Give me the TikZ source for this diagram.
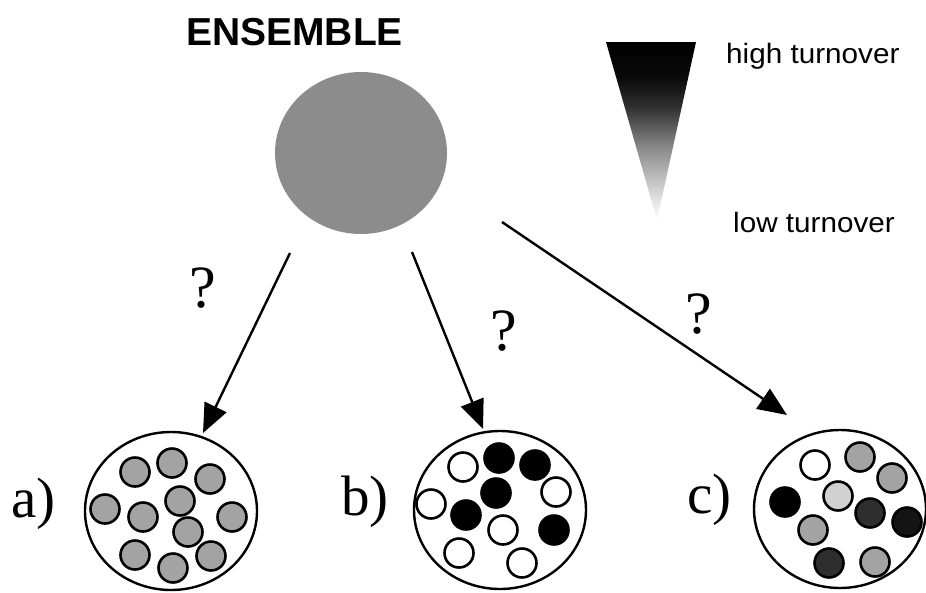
\documentclass[tikz,border=0pt]{standalone}
\usepackage{fontspec}
\setmainfont{Liberation Serif}
\setsansfont{Liberation Sans}
\usetikzlibrary{shapes.geometric,arrows.meta}
\pgfdeclareverticalshading{turnshade}{100bp}{color(0bp)=(white); color(25bp)=(white); color(31bp)=(black!12); color(45bp)=(black!45); color(57bp)=(black!82); color(65bp)=(black!96); color(75bp)=(black); color(100bp)=(black)}
\tikzset{
  big/.style={ellipse, draw, line width=2.4pt, minimum width=172pt, minimum height=158pt, inner sep=0pt},
  bead/.style={circle, draw, line width=2.6pt, minimum size=29pt, inner sep=0pt},
  gbead/.style={bead, fill=black!36},
  lbead/.style={bead, fill=black!18},
  dbead/.style={bead, fill=black!82},
  kbead/.style={bead, fill=black},
  wbead/.style={bead, fill=white},
  conn/.style={line width=2.4pt, -{Triangle[length=29pt,width=24pt]}},
  lab/.style={font=\fontsize{57}{57}\selectfont, inner sep=0pt, anchor=base west},
  qm/.style={font=\fontsize{60}{60}\selectfont, inner sep=0pt, anchor=base},
  sans/.style={font=\sffamily\fontsize{28}{28}\selectfont, inner sep=0pt, anchor=base west}
}
\begin{document}
\begin{tikzpicture}[x=1pt,y=-1pt]
\useasboundingbox[fill=white] (0,0) rectangle (926,592);
% title and ensemble
\node[font=\sffamily\bfseries\fontsize{39}{39}\selectfont, inner sep=0pt, anchor=base west] (title) at (186,45) {ENSEMBLE};
\node[ellipse, fill=black!45, minimum width=172pt, minimum height=162pt, inner sep=0pt] (ens) at (361,153) {};
% turnover wedge
\shade[shading=turnshade] (606,42) -- (696,42) -- (657,220) -- cycle;
\node[sans] (high) at (726,63) {\scalebox{1.06}[1]{high turnover}};
\node[sans] (low) at (733,232) {\scalebox{1.06}[1]{low turnover}};
% outcome circles
\node[big] (A) at (171,511) {};
\node[big] (B) at (500,510) {};
\node[big] (C) at (840,509) {};
\node[lab] (la) at (11,517) {a)};
\node[lab] (lb) at (341,515) {b)};
\node[lab] (lc) at (687,513) {c)};
% arrows
\coordinate (s1) at (290,253); \coordinate (t1) at (203,433);
\coordinate (s2) at (412,252); \coordinate (t2) at (483,429);
\coordinate (s3) at (502,222); \coordinate (t3) at (787,415);
\draw[conn] (s1) -- (t1);
\draw[conn] (s2) -- (t2);
\draw[conn] (s3) -- (t3);
\node[qm] (q1) at (203,307) {?};
\node[qm] (q2) at (504,350) {?};
\node[qm] (q3) at (699,333) {?};
% beads a
\node[gbead] (a1) at (135,472) {};
\node[gbead] (a2) at (172,463) {};
\node[gbead] (a3) at (210,479) {};
\node[gbead] (a4) at (105,509) {};
\node[gbead] (a5) at (143,517) {};
\node[gbead] (a6) at (180,501) {};
\node[gbead] (a7) at (232,517) {};
\node[gbead] (a8) at (188,532) {};
\node[gbead] (a9) at (135,555) {};
\node[gbead] (a10) at (173,568) {};
\node[gbead] (a11) at (211,556) {};
% beads b
\node[wbead] (b1) at (463,467) {};
\node[kbead] (b2) at (499,458) {};
\node[kbead] (b3) at (535,465) {};
\node[wbead] (b4) at (431,504) {};
\node[kbead] (b5) at (496,493) {};
\node[wbead] (b6) at (556,492) {};
\node[kbead] (b7) at (466,515) {};
\node[wbead] (b8) at (503,530) {};
\node[kbead] (b9) at (554,530) {};
\node[wbead] (b10) at (459,553) {};
\node[wbead] (b11) at (522,563) {};
% beads c
\node[wbead] (c1) at (815,465) {};
\node[gbead] (c2) at (860,457) {};
\node[gbead] (c3) at (892,478) {};
\node[kbead] (c4) at (785,502) {};
\node[lbead] (c5) at (838,496) {};
\node[dbead] (c6) at (870,513) {};
\node[dbead, fill=black!92] (c7) at (907,522) {};
\node[gbead] (c8) at (813,530) {};
\node[dbead] (c9) at (829,563) {};
\node[gbead] (c10) at (875,562) {};
\end{tikzpicture}
\end{document}
